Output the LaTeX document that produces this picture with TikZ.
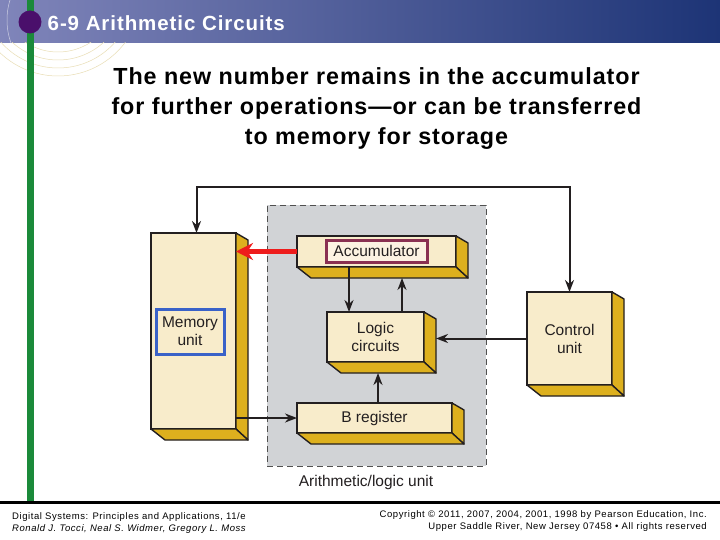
\documentclass[tikz,border=0pt]{standalone}
\usepackage{fontspec}
\setmainfont{Liberation Sans}
\newfontfamily\spacedfont[LetterSpace=4]{Liberation Sans}
\newfontfamily\titlefont[LetterSpace=4.5]{Liberation Sans}
\newfontfamily\footfont[LetterSpace=6]{Liberation Sans}
\usetikzlibrary{arrows.meta,calc}
\definecolor{hdrL}{HTML}{8085BA}
\definecolor{hdrM}{HTML}{41528F}
\definecolor{hdrR}{HTML}{1D3476}
\definecolor{barGreen}{HTML}{1B8A3A}
\definecolor{dotPurple}{HTML}{4A0F6B}
\definecolor{cream}{HTML}{F8ECCB}
\definecolor{gold}{HTML}{DDB01E}
\definecolor{aluGray}{HTML}{D1D3D6}
\definecolor{dashGray}{HTML}{505050}
\definecolor{inkc}{HTML}{231F20}
\definecolor{memBlue}{HTML}{3A62C8}
\definecolor{accMaroon}{HTML}{8A3052}
\definecolor{accFill}{HTML}{FCF2E2}
\definecolor{arrowRed}{HTML}{EE1C1C}
\definecolor{arcBeige}{HTML}{E9DDB4}
\newcommand{\mkfaces}[1]{%
  \filldraw[sideface] (#1.north east) -- ++(12,7) -- ([shift={(12,11)}]#1.south east) -- (#1.south east) -- cycle;
  \filldraw[sideface] (#1.south west) -- ++(14,11) -- ([shift={(12,11)}]#1.south east) -- (#1.south east) -- cycle;}
\begin{document}
\begin{tikzpicture}[x=1pt,y=-1pt,
  front/.style={draw=inkc, fill=cream, line width=1.4pt, outer sep=0pt, inner sep=0pt,
    font=\fontsize{15.5}{18}\selectfont, text=inkc, align=center},
  sideface/.style={draw=inkc, fill=gold, line width=1.4pt, line join=round},
  innerlbl/.style={line width=3pt, outer sep=0pt, inner sep=0pt,
    font=\fontsize{15.5}{18}\selectfont, text=inkc, align=center},
  alubox/.style={draw=dashGray, fill=aluGray, line width=0.9pt, dash pattern=on 6pt off 4pt, outer sep=0pt},
  lbl/.style={font=\fontsize{15.5}{18}\selectfont, text=inkc, inner sep=0pt},
  arr/.style={draw=inkc, line width=2pt, -{Stealth[length=12pt,width=9pt]}},
  redarr/.style={draw=arrowRed, line width=5.5pt, -{Stealth[length=17pt,width=17pt]}},
  foot/.style={font=\footfont\fontsize{9.5}{11}\selectfont, text=black, inner sep=0pt}
]
\useasboundingbox (0,0) rectangle (720,540);
\fill[white] (0,0) rectangle (720,540);
% header band
\shade[left color=hdrL, middle color=hdrM, right color=hdrR] (0,0) rectangle (720,43);
\begin{scope}
  \clip (0,43) rectangle (140,100);
  \foreach \r in {60,68,76,84} \draw[arcBeige, line width=0.5pt] (58,-8) circle (\r);
\end{scope}
\begin{scope}
  \clip (0,0) rectangle (60,43);
  \draw[white!60!hdrL, line width=0.5pt] (75,20) circle (68);
\end{scope}
\fill[barGreen] (26.5,0) rectangle (33.5,501);
\fill[dotPurple] (30,22) circle (11.5);
\node[anchor=west, text=white, inner sep=0pt, font=\titlefont\bfseries\fontsize{20.5}{22}\selectfont] (title) at (47.5,23) {6-9 Arithmetic Circuits};
% headline
\node[align=center, inner sep=0pt, text=black, font=\spacedfont\bfseries\fontsize{23.3}{30}\selectfont] (head) at (376.5,109)
  {The new number remains in the accumulator\\for further operations—or can be transferred\\to memory for storage};
% ALU region
\node[alubox, minimum width=219pt, minimum height=261pt] (alu) at (376.5,335.5) {};
\node[lbl] (alulbl) at (366,482) {Arithmetic/logic unit};
% blocks
\node[front, minimum width=85pt, minimum height=196pt] (mem) at (193.5,331) {};
\mkfaces{mem}
\node[innerlbl, draw=memBlue, fill=cream, minimum width=68pt, minimum height=45pt] (memlbl) at (190,331.5) {Memory\\unit};
\node[front, minimum width=159pt, minimum height=31pt] (acc) at (376.5,251.5) {};
\mkfaces{acc}
\node[innerlbl, draw=accMaroon, fill=accFill, minimum width=101pt, minimum height=22pt] (acclbl) at (376.5,251) {Accumulator};
\node[front, minimum width=97pt, minimum height=50pt] (logic) at (375.5,337) {Logic\\circuits};
\mkfaces{logic}
\node[front, minimum width=155pt, minimum height=30pt] (breg) at (374.5,418) {B register};
\mkfaces{breg}
\node[front, minimum width=85pt, minimum height=93pt] (ctl) at (569.5,338.5) {Control\\unit};
\mkfaces{ctl}
% connectors
\draw[draw=inkc, line width=2pt, {Stealth[length=12pt,width=9pt]}-{Stealth[length=12pt,width=9pt]}]
  ([xshift=3pt]mem.north) -- ++(0,-46) -| (ctl.north);
\draw[redarr] (acc.west) -- (acc.west -| mem.east);
\draw[arr] ([xshift=-27.5pt]acc.south) -- ([xshift=-27.5pt]acc.south |- logic.north);
\draw[arr] ([xshift=26.5pt]logic.north) -- ++(0,-34);
\draw[arr] (ctl.west) -- ($(ctl.west -| logic.east)+(12,0)$);
\draw[arr] ([xshift=3.5pt]breg.north) -- ++(0,-30);
\draw[arr] (mem.east |- breg.west) -- (breg.west);
% footer
\fill[black] (0,500.5) rectangle (720,503.5);
\node[foot, anchor=west] (f1) at (12,517) {Digital Systems: Principles and Applications, 11/e};
\node[foot, anchor=west, font=\footfont\itshape\fontsize{9.5}{11}\selectfont] (f2) at (12,529) {Ronald J. Tocci, Neal S. Widmer, Gregory L. Moss};
\node[foot, anchor=east] (f3) at (707,515) {Copyright © 2011, 2007, 2004, 2001, 1998 by Pearson Education, Inc.};
\node[foot, anchor=east] (f4) at (707,527) {Upper Saddle River, New Jersey 07458 • All rights reserved};
\end{tikzpicture}
\end{document}
